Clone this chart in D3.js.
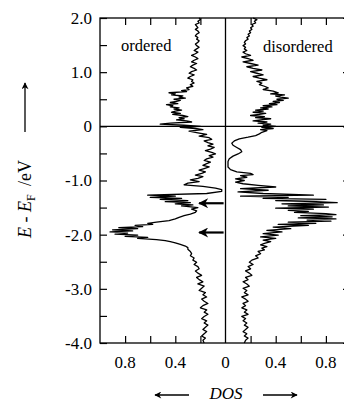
<!DOCTYPE html>
<html><head><meta charset="utf-8">
<script src="https://cdn.jsdelivr.net/npm/d3@7"></script>
<style>
html,body{margin:0;padding:0;background:#fff;}
svg{display:block;}
text{font-family:"Liberation Serif","Times New Roman",serif;fill:#000;}
</style></head>
<body>
<svg id="c" width="344" height="403"></svg>
<script>
// Energy ticks (eV) and labels
const yTicks = [2, 1, 0, -1, -2, -3, -4];
const yTickLabels = ["2.0", "1.0", "0", "-1.0", "-2.0", "-3.0", "-4.0"];
const yMinorTicks = [1.5, 0.5, -0.5, -1.5, -2.5, -3.5];
// DOS ticks (mirrored)
const xTicks = [0.8, 0.4, 0, 0.4, 0.8];
const xTickSigned = [-0.8, -0.4, 0, 0.4, 0.8];
const xMinorSigned = [-0.8, -0.6, -0.4, -0.2, 0.2, 0.4, 0.6, 0.8];
// arrows marking features (eV)
const arrowEnergies = [-1.42, -1.96];

// ordered DOS: [E, DOS]
const ordered = [
[2.00,0.21],[1.97,0.20],[1.94,0.22],[1.91,0.21],[1.88,0.24],[1.85,0.23],[1.82,0.22],[1.79,0.24],
[1.76,0.22],[1.73,0.21],[1.70,0.23],[1.67,0.24],[1.64,0.22],[1.61,0.23],[1.58,0.21],[1.55,0.22],
[1.52,0.24],[1.49,0.23],[1.46,0.21],[1.43,0.23],[1.40,0.25],[1.37,0.22],[1.34,0.24],[1.31,0.27],
[1.28,0.24],[1.25,0.22],[1.22,0.25],[1.19,0.27],[1.16,0.23],[1.13,0.26],[1.10,0.28],[1.07,0.25],
[1.04,0.23],[1.01,0.27],[0.98,0.29],[0.95,0.25],[0.92,0.28],[0.89,0.30],[0.86,0.26],[0.83,0.27],
[0.80,0.25],[0.77,0.28],[0.74,0.26],[0.71,0.31],[0.68,0.29],[0.66,0.35],[0.64,0.31],[0.62,0.45],
[0.60,0.40],[0.58,0.43],[0.56,0.34],[0.54,0.37],[0.52,0.32],[0.50,0.41],[0.48,0.36],[0.46,0.39],
[0.44,0.44],[0.42,0.38],[0.40,0.47],[0.38,0.42],[0.36,0.44],[0.34,0.37],[0.32,0.41],[0.30,0.35],
[0.28,0.40],[0.26,0.43],[0.24,0.36],[0.22,0.42],[0.20,0.34],[0.18,0.30],[0.16,0.37],[0.14,0.33],
[0.12,0.39],[0.10,0.31],[0.08,0.27],[0.06,0.44],[0.04,0.52],[0.02,0.33],[0.00,0.20],[-0.02,0.36],
[-0.04,0.24],[-0.06,0.18],[-0.09,0.29],[-0.12,0.22],[-0.15,0.15],[-0.18,0.21],[-0.21,0.13],[-0.24,0.11],
[-0.27,0.17],[-0.30,0.14],[-0.33,0.10],[-0.36,0.14],[-0.39,0.09],[-0.42,0.12],[-0.45,0.16],[-0.48,0.11],
[-0.51,0.08],[-0.54,0.13],[-0.57,0.10],[-0.60,0.15],[-0.63,0.17],[-0.66,0.12],[-0.69,0.15],[-0.72,0.18],
[-0.75,0.13],[-0.78,0.17],[-0.81,0.21],[-0.84,0.16],[-0.87,0.19],[-0.90,0.24],[-0.93,0.18],[-0.96,0.22],
[-0.99,0.28],[-1.02,0.21],[-1.05,0.30],[-1.08,0.33],[-1.11,0.18],[-1.14,0.08],[-1.17,0.03],[-1.20,0.03],
[-1.24,0.15],[-1.27,0.62],[-1.29,0.40],[-1.31,0.60],[-1.33,0.35],[-1.35,0.52],[-1.37,0.30],[-1.39,0.48],
[-1.41,0.28],[-1.43,0.40],[-1.45,0.26],[-1.47,0.35],[-1.50,0.22],[-1.53,0.27],[-1.56,0.23],[-1.59,0.24],
[-1.62,0.28],[-1.65,0.33],[-1.68,0.37],[-1.71,0.40],[-1.74,0.45],[-1.77,0.55],[-1.79,0.62],[-1.81,0.58],
[-1.83,0.72],[-1.85,0.66],[-1.87,0.85],[-1.89,0.70],[-1.91,0.90],[-1.93,0.74],[-1.95,0.92],[-1.97,0.78],
[-1.99,0.88],[-2.01,0.70],[-2.03,0.80],[-2.05,0.62],[-2.07,0.70],[-2.09,0.55],[-2.11,0.48],[-2.13,0.44],
[-2.15,0.40],[-2.18,0.36],[-2.21,0.32],[-2.24,0.30],[-2.27,0.30],[-2.31,0.28],[-2.35,0.27],[-2.39,0.28],
[-2.43,0.25],[-2.47,0.26],[-2.51,0.23],[-2.55,0.25],[-2.59,0.22],[-2.63,0.21],[-2.67,0.24],[-2.71,0.22],
[-2.75,0.19],[-2.79,0.23],[-2.83,0.21],[-2.87,0.18],[-2.91,0.22],[-2.95,0.17],[-2.99,0.19],[-3.03,0.21],
[-3.07,0.16],[-3.11,0.18],[-3.15,0.15],[-3.19,0.19],[-3.23,0.17],[-3.27,0.14],[-3.31,0.18],[-3.35,0.20],
[-3.39,0.15],[-3.43,0.17],[-3.47,0.14],[-3.51,0.17],[-3.55,0.19],[-3.59,0.15],[-3.63,0.17],[-3.67,0.14],
[-3.71,0.16],[-3.75,0.18],[-3.79,0.15],[-3.83,0.17],[-3.87,0.19],[-3.91,0.16],[-3.95,0.18],[-4.00,0.17]
];

// disordered DOS: [E, DOS]
const disordered = [
[2.00,0.22],[1.97,0.25],[1.94,0.23],[1.91,0.24],[1.88,0.21],[1.85,0.22],[1.82,0.20],[1.79,0.21],
[1.76,0.19],[1.73,0.20],[1.70,0.18],[1.67,0.19],[1.64,0.17],[1.61,0.18],[1.58,0.16],[1.55,0.15],
[1.52,0.16],[1.49,0.14],[1.46,0.16],[1.43,0.15],[1.40,0.17],[1.37,0.14],[1.34,0.16],[1.31,0.20],
[1.28,0.13],[1.25,0.18],[1.22,0.22],[1.19,0.14],[1.16,0.20],[1.13,0.26],[1.10,0.17],[1.07,0.22],
[1.04,0.29],[1.01,0.20],[0.98,0.25],[0.95,0.30],[0.92,0.22],[0.89,0.27],[0.86,0.33],[0.83,0.25],
[0.80,0.29],[0.77,0.27],[0.74,0.31],[0.71,0.34],[0.68,0.30],[0.65,0.38],[0.62,0.42],[0.60,0.36],
[0.58,0.47],[0.56,0.40],[0.54,0.44],[0.52,0.50],[0.50,0.41],[0.48,0.46],[0.46,0.38],[0.44,0.43],
[0.42,0.35],[0.40,0.41],[0.38,0.30],[0.36,0.37],[0.34,0.28],[0.32,0.34],[0.30,0.24],[0.28,0.30],
[0.26,0.22],[0.24,0.32],[0.22,0.27],[0.20,0.20],[0.18,0.31],[0.16,0.24],[0.14,0.36],[0.12,0.28],
[0.10,0.22],[0.08,0.33],[0.06,0.26],[0.04,0.36],[0.02,0.30],[0.00,0.40],[-0.02,0.29],[-0.04,0.38],
[-0.06,0.28],[-0.08,0.33],[-0.11,0.29],[-0.14,0.27],[-0.17,0.24],[-0.20,0.18],[-0.23,0.11],[-0.27,0.07],
[-0.31,0.05],[-0.35,0.06],[-0.39,0.09],[-0.43,0.12],[-0.47,0.13],[-0.51,0.10],[-0.55,0.06],[-0.60,0.03],
[-0.65,0.02],[-0.70,0.02],[-0.75,0.02],[-0.80,0.04],[-0.84,0.09],[-0.87,0.20],[-0.89,0.22],[-0.91,0.12],
[-0.94,0.17],[-0.97,0.08],[-1.00,0.15],[-1.03,0.08],[-1.06,0.14],[-1.09,0.26],[-1.12,0.40],[-1.15,0.12],
[-1.18,0.34],[-1.21,0.10],[-1.24,0.30],[-1.27,0.70],[-1.29,0.12],[-1.31,0.50],[-1.33,0.30],[-1.35,0.80],
[-1.37,0.40],[-1.39,0.72],[-1.41,0.89],[-1.43,0.45],[-1.45,0.78],[-1.47,0.50],[-1.49,0.82],[-1.51,0.40],
[-1.53,0.70],[-1.55,0.50],[-1.57,0.66],[-1.59,0.55],[-1.61,0.80],[-1.63,0.88],[-1.65,0.60],[-1.67,0.85],
[-1.69,0.58],[-1.71,0.88],[-1.73,0.65],[-1.75,0.84],[-1.77,0.50],[-1.79,0.72],[-1.81,0.42],[-1.83,0.66],
[-1.86,0.38],[-1.89,0.52],[-1.92,0.33],[-1.95,0.45],[-1.98,0.30],[-2.01,0.42],[-2.04,0.28],[-2.07,0.40],
[-2.10,0.30],[-2.13,0.36],[-2.16,0.31],[-2.19,0.28],[-2.22,0.33],[-2.25,0.29],[-2.28,0.31],[-2.31,0.26],
[-2.35,0.28],[-2.39,0.24],[-2.43,0.26],[-2.47,0.21],[-2.51,0.19],[-2.55,0.22],[-2.59,0.18],[-2.63,0.20],
[-2.67,0.16],[-2.71,0.19],[-2.75,0.21],[-2.79,0.16],[-2.83,0.18],[-2.87,0.14],[-2.91,0.17],[-2.95,0.19],
[-2.99,0.14],[-3.03,0.17],[-3.07,0.15],[-3.11,0.18],[-3.15,0.13],[-3.19,0.16],[-3.23,0.18],[-3.27,0.14],
[-3.31,0.16],[-3.35,0.13],[-3.39,0.17],[-3.43,0.15],[-3.47,0.18],[-3.51,0.13],[-3.55,0.16],[-3.59,0.14],
[-3.63,0.17],[-3.67,0.15],[-3.71,0.18],[-3.75,0.16],[-3.79,0.14],[-3.83,0.17],[-3.87,0.15],[-3.91,0.18],
[-3.95,0.16],[-4.00,0.15]
];

const svg = d3.select("#c");
const x = d3.scaleLinear().domain([-1, 1]).range([100, 351]);
const y = d3.scaleLinear().domain([-4, 2]).range([343, 18]);
const FONT = 17;

// frame
const frame = svg.append("g").attr("stroke", "#000").attr("stroke-width", 1.3).attr("fill", "none");
frame.append("rect").attr("x", x(-1)).attr("y", y(2)).attr("width", x(1) - x(-1)).attr("height", y(-4) - y(2));
frame.append("line").attr("x1", x(-1)).attr("x2", x(1)).attr("y1", y(0)).attr("y2", y(0));
frame.append("line").attr("x1", x(0)).attr("x2", x(0)).attr("y1", y(2)).attr("y2", y(-4));

// axes via d3
const leftAxis = d3.axisRight(y).tickValues(yTicks.concat(yMinorTicks)).tickSize(7).tickFormat("");
svg.append("g").attr("transform", `translate(${x(-1)},0)`).call(leftAxis)
  .call(g => g.select(".domain").remove()).selectAll("line").attr("stroke-width", 1.2);
const rightAxis = d3.axisLeft(y).tickValues(yTicks).tickSize(8).tickFormat("");
svg.append("g").attr("transform", `translate(${x(1)},0)`).call(rightAxis)
  .call(g => g.select(".domain").remove()).selectAll("line").attr("stroke-width", 1.2);
const botAxis = d3.axisTop(x).tickValues(xMinorSigned).tickSize(7).tickFormat("");
svg.append("g").attr("transform", `translate(0,${y(-4)})`).call(botAxis)
  .call(g => g.select(".domain").remove()).selectAll("line").attr("stroke-width", 1.2);
const topAxis = d3.axisBottom(x).tickValues(xMinorSigned).tickSize(7).tickFormat("");
svg.append("g").attr("transform", `translate(0,${y(2)})`).call(topAxis)
  .call(g => g.select(".domain").remove()).selectAll("line").attr("stroke-width", 1.2);

// y tick labels
svg.append("g").selectAll("text").data(yTicks).join("text")
  .attr("x", 92).attr("y", d => y(d)).attr("dy", "0.35em")
  .attr("text-anchor", "end").attr("font-size", FONT)
  .text((d, i) => yTickLabels[i]);
// x tick labels
svg.append("g").selectAll("text").data(xTickSigned).join("text")
  .attr("x", d => x(d)).attr("y", 368)
  .attr("text-anchor", "middle").attr("font-size", FONT)
  .text((d, i) => xTicks[i] === 0 ? "0" : xTicks[i].toFixed(1));

// curves
const lineL = d3.line().x(d => x(-d[1])).y(d => y(d[0]));
const lineR = d3.line().x(d => x(d[1])).y(d => y(d[0]));
svg.append("path").datum(ordered).attr("d", lineL).attr("fill", "none").attr("stroke", "#000").attr("stroke-width", 1.3).attr("stroke-linejoin", "round");
svg.append("path").datum(disordered).attr("d", lineR).attr("fill", "none").attr("stroke", "#000").attr("stroke-width", 1.3).attr("stroke-linejoin", "round");

// panel labels
svg.append("text").attr("x", 121).attr("y", 51).attr("font-size", 16.5).text("ordered");
svg.append("text").attr("x", 263).attr("y", 52).attr("font-size", 16.5).text("disordered");

// arrows
const defs = svg.append("defs");
defs.append("marker").attr("id", "ah").attr("viewBox", "0 0 10 10").attr("refX", 9).attr("refY", 5)
  .attr("markerUnits", "userSpaceOnUse").attr("markerWidth", 12).attr("markerHeight", 10).attr("orient", "auto")
  .append("path").attr("d", "M0,0 L10,5 L0,10 L3,5 Z").attr("fill", "#000");
defs.append("marker").attr("id", "ah2").attr("viewBox", "0 0 10 10").attr("refX", 9).attr("refY", 5)
  .attr("markerUnits", "userSpaceOnUse").attr("markerWidth", 10).attr("markerHeight", 7).attr("orient", "auto")
  .append("path").attr("d", "M0,0 L10,5 L0,10 L3,5 Z").attr("fill", "#000");

svg.append("g").selectAll("line").data(arrowEnergies).join("line")
  .attr("x1", x(-0.015)).attr("x2", x(-0.21)).attr("y1", d => y(d)).attr("y2", d => y(d))
  .attr("stroke", "#000").attr("stroke-width", 2.2).attr("marker-end", "url(#ah)");

// axis title (rotated)
const yt = svg.append("text").attr("transform", "translate(31,199) rotate(-90)")
  .attr("text-anchor", "middle").attr("font-size", 18);
yt.append("tspan").attr("font-style", "italic").text("E");
yt.append("tspan").text(" - ");
yt.append("tspan").attr("font-style", "italic").text("E");
yt.append("tspan").attr("font-size", 12).attr("dy", 4).text("F");
yt.append("tspan").attr("dy", -4).text("\u2009 /eV");
svg.append("line").attr("x1", 25).attr("x2", 25).attr("y1", 132).attr("y2", 83)
  .attr("stroke", "#000").attr("stroke-width", 1.3).attr("marker-end", "url(#ah2)");

// DOS title and arrows
svg.append("text").attr("x", 226).attr("y", 399).attr("text-anchor", "middle")
  .attr("font-size", 17).attr("font-style", "italic").text("DOS");
svg.append("line").attr("x1", 189).attr("x2", 155).attr("y1", 395).attr("y2", 395)
  .attr("stroke", "#000").attr("stroke-width", 1.3).attr("marker-end", "url(#ah2)");
svg.append("line").attr("x1", 263).attr("x2", 297).attr("y1", 395).attr("y2", 395)
  .attr("stroke", "#000").attr("stroke-width", 1.3).attr("marker-end", "url(#ah2)");
</script>
</body></html>
